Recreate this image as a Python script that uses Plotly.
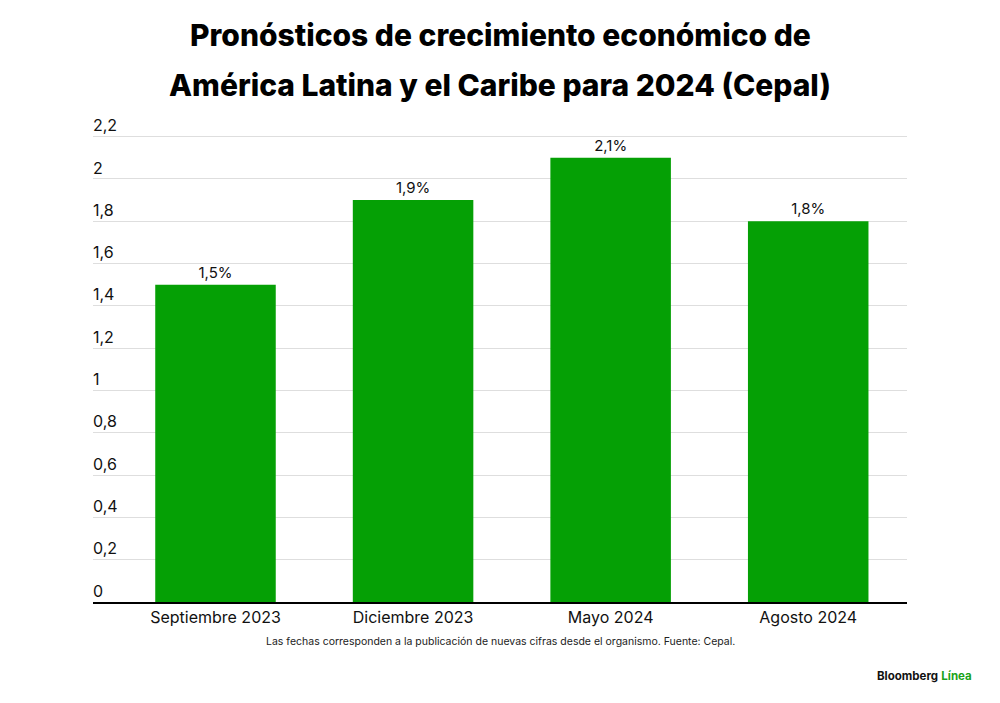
import plotly.graph_objects as go

fechas = ["Septiembre 2023", "Diciembre 2023", "Mayo 2024", "Agosto 2024"]
crecimiento = [1.5, 1.9, 2.1, 1.8]
y_ticks = [0, 0.2, 0.4, 0.6, 0.8, 1, 1.2, 1.4, 1.6, 1.8, 2, 2.2]

VERDE = "#05a005"
FUENTE = "Inter"

fig = go.Figure()
fig.add_trace(go.Bar(
    x=list(range(len(fechas))), y=crecimiento,
    marker=dict(color=VERDE, line=dict(width=0)),
    width=0.61,
    text=[f"{v:.1f}%".replace(".", ",") for v in crecimiento],
    textposition="outside",
    textfont=dict(family=FUENTE, size=15, color="#111111"),
    cliponaxis=False,
))

fig.update_layout(
    width=1000, height=703,
    margin=dict(l=85, r=101, t=99, b=109),
    paper_bgcolor="white", plot_bgcolor="white",
    separators=",.",
    showlegend=False,
    font=dict(family=FUENTE, color="#111111"),
)

# titulo en dos lineas
titulo = ["Pronósticos de crecimiento económico de",
          "América Latina y el Caribe para 2024 (Cepal)"]
for texto, yy in zip(titulo, [1.1455, 1.0444]):
    fig.add_annotation(
        text=texto, xref="paper", yref="paper", x=0.5, y=yy,
        xanchor="center", yanchor="middle", showarrow=False,
        font=dict(family=FUENTE, size=30, weight=800, color="#000000"),
    )

fig.update_xaxes(
    range=[-0.62, 3.5],
    tickmode="array", tickvals=list(range(len(fechas))), ticktext=fechas,
    tickfont=dict(family=FUENTE, size=16, color="#111111"),
    showline=True, linecolor="#000000", linewidth=1.5,
    showgrid=False, ticks="", ticklen=0,
)
fig.update_yaxes(
    range=[0, 2.34],
    tickmode="array", tickvals=y_ticks,
    tickformat="~g",
    ticklabelposition="inside",
    ticklabelshift=-11,
    ticklabelstandoff=-3,
    tickfont=dict(family=FUENTE, size=16, color="#111111"),
    showgrid=True, gridcolor="#dedede", gridwidth=1,
    zeroline=False, showline=False, ticks="",
)

fig.add_annotation(
    text="Las fechas corresponden a la publicación de nuevas cifras desde el organismo. Fuente: Cepal.",
    xref="paper", yref="paper", x=0.5, y=-0.0808, xanchor="center", yanchor="middle",
    showarrow=False, font=dict(family=FUENTE, size=10.5, color="#222222"),
)
fig.add_annotation(
    text="<b>Bloomberg</b> <b><span style='color:#1aa31a'>Línea</span></b>",
    xref="paper", yref="paper", x=1.082, y=-0.1495, xanchor="right", yanchor="middle",
    showarrow=False, font=dict(family=FUENTE, size=11.5, color="#111111"),
)

fig.write_html("out.html")
